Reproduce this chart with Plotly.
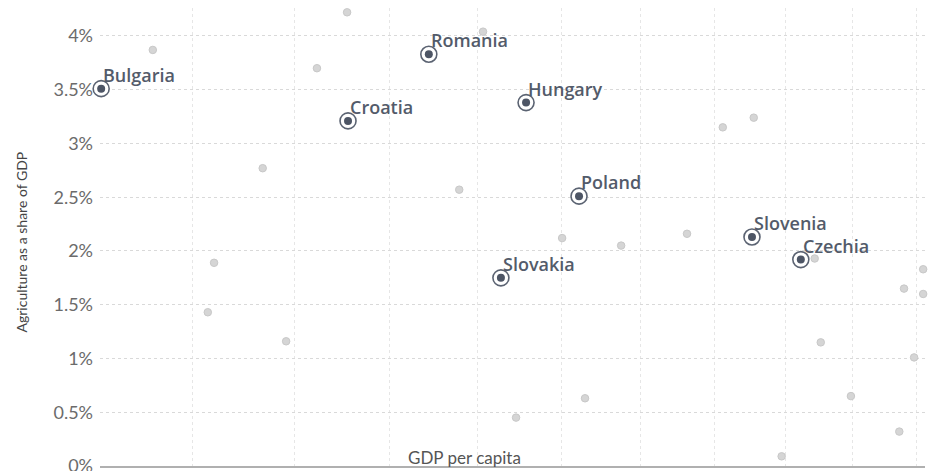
import math
import plotly.graph_objects as go

# ---- data ----
countries = ["Bulgaria", "Croatia", "Romania", "Hungary", "Slovakia", "Poland", "Slovenia", "Czechia"]
gdp_per_capita = [24340, 29120, 30880, 33140, 32540, 34440, 39050, 40460]
agri_share = [3.51, 3.21, 3.83, 3.38, 1.75, 2.51, 2.13, 1.92]

other_gdp = [25270, 29100, 28470, 27370, 26420, 26300, 27840, 32120, 31570, 34020,
             35510, 32900, 34590, 38230, 39100, 37250, 41050, 44220, 43610, 44220,
             43930, 41960, 44540, 43460, 39900, 40870]
other_agri = [3.87, 4.22, 3.70, 2.77, 1.89, 1.43, 1.16, 4.04, 2.57, 2.12,
              2.05, 0.45, 0.63, 3.15, 3.24, 2.16, 1.15, 1.83, 1.65, 1.60,
              1.01, 0.65, 0.59, 0.32, 0.09, 1.93]

x_grid_vals = [26000, 28000, 30000, 32000, 34000, 36000, 38000, 40000, 42000, 44000]
y_tick_vals = [0, 0.5, 1, 1.5, 2, 2.5, 3, 3.5, 4]
y_tick_text = ["0%", "0.5%", "1%", "1.5%", "2%", "2.5%", "3%", "3.5%", "4%"]

x_title = "GDP per capita"
y_title = "Agriculture as a share of GDP"

FONT = "Lato"
LABEL_FONT = "Open Sans"
LABEL_COLOR = "#535b6a"

fig = go.Figure()

# background countries
fig.add_trace(go.Scatter(
    x=other_gdp, y=other_agri, mode="markers",
    marker=dict(size=7.5, color="#d5d5d5", line=dict(width=1, color="#c8c8c8")),
    cliponaxis=False, hoverinfo="skip", showlegend=False,
))

# highlighted countries: outer ring
fig.add_trace(go.Scatter(
    x=gdp_per_capita, y=agri_share, mode="markers",
    marker=dict(size=16, color="white", line=dict(width=1.6, color="#5b6372")),
    cliponaxis=False, hoverinfo="skip", showlegend=False,
))
# inner dot
fig.add_trace(go.Scatter(
    x=gdp_per_capita, y=agri_share, mode="markers",
    marker=dict(size=8, color="#4d5565"),
    cliponaxis=False, showlegend=False, hoverinfo="skip",
))

annotations = []
for name, xv, yv in zip(countries, gdp_per_capita, agri_share):
    annotations.append(dict(
        x=math.log10(xv), y=yv, xref="x", yref="y", text=name, showarrow=False,
        xanchor="left", yanchor="bottom", xshift=0, yshift=0,
        font=dict(family=LABEL_FONT, size=18, color=LABEL_COLOR, weight=600),
    ))

annotations.append(dict(
    x=0.4424, y=0, xref="paper", yref="paper", text=x_title, showarrow=False,
    xanchor="center", yanchor="bottom", yshift=-4,
    font=dict(family=FONT, size=17, color="#555555"),
))
annotations.append(dict(
    x=0, y=0.488, xref="paper", yref="paper", text=y_title, showarrow=False,
    xanchor="center", yanchor="middle", xshift=-79, textangle=-90,
    font=dict(family=FONT, size=14, color="#444444"),
))

fig.update_layout(
    width=937, height=471,
    margin=dict(l=92, r=20, t=0, b=13),
    paper_bgcolor="white", plot_bgcolor="white",
    font=dict(family=FONT),
    hovermode=False,
    annotations=annotations,
    xaxis=dict(
        type="log",
        range=[4.38595, 4.64620],
        tickvals=x_grid_vals, showticklabels=False, ticks="",
        showgrid=True, gridcolor="#e6e6e6", griddash="dot", gridwidth=1,
        showline=True, linecolor="#b0b0b0", linewidth=2,
        zeroline=False, fixedrange=True,
    ),
    yaxis=dict(
        range=[0, 4.26],
        tickvals=y_tick_vals, ticktext=y_tick_text, ticks="",
        tickfont=dict(family=FONT, size=18, color="#6b6b6b"),
        ticklabelstandoff=6,
        showgrid=True, gridcolor="#d9d9d9", griddash="3px,3px", gridwidth=1,
        zeroline=False, showline=False, fixedrange=True,
    ),
)

fig.write_html("out.html")
